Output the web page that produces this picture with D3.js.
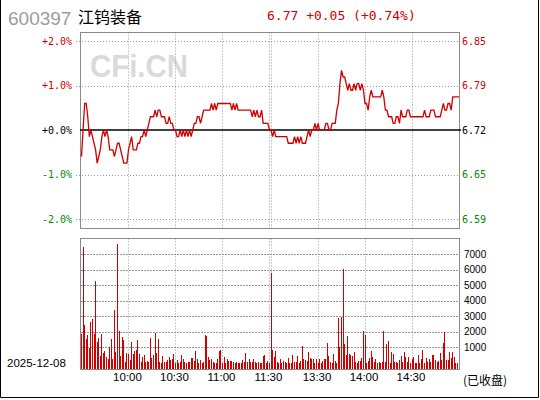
<!DOCTYPE html>
<html>
<head>
<meta charset="utf-8">
<script src="https://cdn.jsdelivr.net/npm/d3@7/dist/d3.min.js"></script>
<style>
  body { margin: 0; background: #fff; }
  svg { display: block; font-family: "Liberation Sans", Arial, sans-serif; }
</style>
</head>
<body>
<svg id="chart" width="540" height="400"></svg>
<script>
var stockCode = '600397'
var stockName = '江钨装备'
var quote = '6.77 +0.05 (+0.74%)'
var tradeDate = '2025-12-08'
var closedNote = '(已收盘)'
var prevClose = 6.72

var pctTicks = [2, 1, 0, -1, -2]
var pctLabels = ['+2.0%', '+1.0%', '+0.0%', '-1.0%', '-2.0%']
var priceLabels = ['6.85', '6.79', '6.72', '6.65', '6.59']
var volTicks = [1000, 2000, 3000, 4000, 5000, 6000, 7000]

// minute index: 0 = 9:30, 120 = 11:30, 121 = 13:00, 241 = 15:00
var gridIndex = [30, 60, 90, 120, 121, 151, 181, 211]
var timeIndex = [30, 60, 90, 120, 151, 181, 211]
var timeLabels = ['10:00', '10:30', '11:00', '11:30', '13:30', '14:00', '14:30']

var prices = [
  6.68, 6.72, 6.76, 6.76, 6.74, 6.71, 6.72, 6.71, 6.70, 6.69,
  6.67, 6.68, 6.69, 6.71, 6.72, 6.71, 6.72, 6.71, 6.69, 6.69,
  6.69, 6.68, 6.69, 6.70, 6.70, 6.69, 6.68, 6.67, 6.67, 6.67,
  6.69, 6.70, 6.71, 6.69, 6.69, 6.69, 6.70, 6.70, 6.71, 6.71,
  6.72, 6.71, 6.72, 6.73, 6.74, 6.74, 6.74, 6.75, 6.74, 6.75,
  6.75, 6.74, 6.74, 6.74, 6.73, 6.73, 6.74, 6.73, 6.73, 6.72,
  6.72, 6.71, 6.71, 6.72, 6.71, 6.72, 6.71, 6.72, 6.71, 6.72,
  6.71, 6.72, 6.73, 6.73, 6.74, 6.74, 6.73, 6.74, 6.75, 6.75,
  6.75, 6.75, 6.75, 6.76, 6.75, 6.76, 6.75, 6.76, 6.76, 6.76,
  6.76, 6.76, 6.76, 6.76, 6.76, 6.76, 6.75, 6.76, 6.75, 6.76,
  6.75, 6.75, 6.75, 6.75, 6.75, 6.75, 6.75, 6.75, 6.75, 6.74,
  6.75, 6.74, 6.75, 6.74, 6.74, 6.75, 6.73, 6.73, 6.73, 6.73,
  6.72, 6.72, 6.71, 6.72, 6.71, 6.71, 6.71, 6.71, 6.71, 6.71,
  6.71, 6.71, 6.70, 6.70, 6.70, 6.70, 6.71, 6.70, 6.71, 6.70,
  6.71, 6.70, 6.70, 6.70, 6.71, 6.72, 6.71, 6.72, 6.72, 6.73,
  6.72, 6.73, 6.72, 6.72, 6.72, 6.72, 6.73, 6.73, 6.72, 6.72,
  6.73, 6.73, 6.73, 6.75, 6.76, 6.79, 6.81, 6.80, 6.80, 6.79,
  6.78, 6.79, 6.78, 6.78, 6.79, 6.78, 6.79, 6.79, 6.78, 6.79,
  6.78, 6.76, 6.76, 6.75, 6.77, 6.78, 6.77, 6.77, 6.77, 6.77,
  6.77, 6.77, 6.78, 6.77, 6.75, 6.75, 6.74, 6.74, 6.74, 6.73,
  6.73, 6.74, 6.74, 6.73, 6.75, 6.74, 6.74, 6.74, 6.75, 6.75,
  6.74, 6.74, 6.74, 6.74, 6.74, 6.74, 6.74, 6.74, 6.74, 6.75,
  6.74, 6.74, 6.74, 6.75, 6.75, 6.75, 6.74, 6.74, 6.74, 6.74,
  6.75, 6.76, 6.75, 6.75, 6.76, 6.76, 6.75, 6.77, 6.77, 6.77,
  6.77, 6.77
]

var volumes = [
  1865, 7480, 2440, 1540, 1800, 990, 2640, 2830, 1860, 5270,
  1370, 1610, 450, 1860, 620, 770, 390, 260, 1030, 1540,
  260, 3410, 710, 7650, 2060, 450, 1670, 1480, 60, 640,
  580, 190, 1350, 580, 770, 840, 1480, 580, 60, 390,
  510, 60, 130, 60, 1610, 320, 510, 1930, 640, 1540,
  60, 20, 450, 60, 60, 190, 390, 190, 260, 580,
  20, 190, 20, 60, 510, 260, 60, 20, 60, 60,
  320, 320, 130, 770, 260, 20, 190, 20, 60, 1800,
  1740, 390, 190, 260, 60, 20, 20, 260, 770, 840,
  20, 390, 20, 260, 130, 130, 130, 60, 20, 60,
  20, 20, 20, 190, 60, 640, 60, 260, 60, 60,
  260, 60, 20, 60, 20, 20, 450, 510, 20, 130,
  20, 5810, 840, 390, 770, 60, 20, 260, 20, 130,
  60, 20, 320, 20, 20, 510, 60, 60, 450, 20,
  130, 1090, 260, 190, 130, 710, 320, 260, 260, 20,
  260, 20, 260, 20, 130, 260, 260, 1290, 450, 60,
  20, 580, 130, 20, 2920, 1030, 2980, 6050, 1220, 510,
  1740, 580, 510, 450, 710, 60, 20, 130, 130, 320,
  2060, 1800, 20, 130, 320, 770, 390, 60, 260, 20,
  60, 20, 60, 2060, 60, 1220, 1410, 20, 710, 580,
  60, 60, 20, 190, 450, 60, 710, 390, 60, 390,
  20, 260, 390, 20, 20, 510, 20, 260, 840, 20,
  320, 60, 260, 60, 510, 510, 190, 60, 130, 640,
  190, 1290, 1990, 190, 190, 710, 320, 710, 390, 20,
  20, 1860
]

var red = '#d00000', green = '#008c00', grid = '#999'
var mono = '"DejaVu Sans Mono", monospace'
var cjk = '"Noto Sans CJK SC", sans-serif'

var svg = d3.select('#chart')

var x = d3.scaleLinear().domain([0, 241]).range([81.5, 459])
var yPct = d3.scaleLinear().domain([-2, 2]).range([219, 41])
var yPrice = d3.scaleLinear()
    .domain([prevClose * 0.98, prevClose * 1.02])
    .range([219, 41])
var yVol = d3.scaleLinear().domain([0, 7000]).range([363, 254])

var pricePanel = { top: 32.5, bottom: 228.5 }
var volPanel = { top: 238.5, bottom: 369.5 }

function pctColor (p) {
  return p > 0 ? red : (p < 0 ? green : '#000')
}

// outer frame (left, bottom, right)
svg.append('path')
    .attr('d', 'M0.5,0V397.5H538.5V0')
    .attr('fill', 'none')
    .attr('stroke', '#000')

// header
svg.append('text')
    .attr('x', 8).attr('y', 25)
    .attr('font-size', 19)
    .attr('fill', '#9c9c9c')
    .text(stockCode)

svg.append('text')
    .attr('x', 78).attr('y', 23)
    .attr('font-size', 16)
    .style('font-family', cjk)
    .attr('fill', '#000')
    .text(stockName)

svg.append('text')
    .attr('x', 267).attr('y', 20)
    .attr('font-size', 13)
    .style('font-family', mono)
    .attr('fill', red)
    .text(quote)

// watermark
svg.append('text')
    .attr('x', 90).attr('y', 77)
    .attr('font-size', 32)
    .attr('font-weight', 'bold')
    .attr('textLength', 98)
    .attr('lengthAdjust', 'spacingAndGlyphs')
    .attr('fill', '#dadada')
    .text('CFi.CN')

// price panel grid
var pg = svg.append('g').attr('class', 'price-grid')

pg.selectAll('line.h')
    .data(pctTicks.filter(function (d) { return d !== 0 }))
  .enter().append('line')
    .attr('class', 'h')
    .attr('x1', 76).attr('x2', 460)
    .attr('y1', function (d) { return Math.round(yPct(d)) + 0.5 })
    .attr('y2', function (d) { return Math.round(yPct(d)) + 0.5 })
    .attr('stroke', grid)
    .attr('stroke-dasharray', '1,2')

pg.selectAll('line.v')
    .data(gridIndex)
  .enter().append('line')
    .attr('class', 'v')
    .attr('x1', function (d) { return Math.round(x(d)) + 0.5 })
    .attr('x2', function (d) { return Math.round(x(d)) + 0.5 })
    .attr('y1', pricePanel.top).attr('y2', pricePanel.bottom)
    .attr('stroke', grid)
    .attr('stroke-dasharray', '1,2')

pg.append('rect')
    .attr('x', 80.5).attr('y', pricePanel.top)
    .attr('width', 379).attr('height', pricePanel.bottom - pricePanel.top)
    .attr('fill', 'none')
    .attr('stroke', '#8a8a8a')

// axis labels
svg.selectAll('text.pct')
    .data(pctTicks)
  .enter().append('text')
    .attr('class', 'pct')
    .attr('x', 72)
    .attr('y', function (d) { return yPct(d) })
    .attr('dy', '0.36em')
    .attr('text-anchor', 'end')
    .attr('font-size', 10)
    .style('font-family', mono)
    .attr('fill', pctColor)
    .text(function (d, i) { return pctLabels[i] })

svg.selectAll('text.px')
    .data(pctTicks)
  .enter().append('text')
    .attr('class', 'px')
    .attr('x', 462)
    .attr('y', function (d) { return yPct(d) })
    .attr('dy', '0.36em')
    .attr('font-size', 10)
    .style('font-family', mono)
    .attr('fill', pctColor)
    .text(function (d, i) { return priceLabels[i] })

// previous close line
svg.append('line')
    .attr('x1', 80).attr('x2', 461)
    .attr('y1', yPct(0)).attr('y2', yPct(0))
    .attr('stroke', '#000')
    .attr('stroke-width', 1.4)

// price line
var line = d3.line()
    .x(function (d, i) { return x(i) })
    .y(function (d) { return yPrice(d) })

svg.append('path')
    .datum(prices)
    .attr('d', line)
    .attr('fill', 'none')
    .attr('stroke', red)
    .attr('stroke-width', 1.3)

// volume panel
var vg = svg.append('g').attr('class', 'volume')

vg.selectAll('line.h')
    .data(volTicks)
  .enter().append('line')
    .attr('class', 'h')
    .attr('x1', 81).attr('x2', 459)
    .attr('y1', function (d) { return Math.round(yVol(d)) + 0.5 })
    .attr('y2', function (d) { return Math.round(yVol(d)) + 0.5 })
    .attr('stroke', grid)
    .attr('stroke-dasharray', '2,1')

vg.selectAll('line.v')
    .data(gridIndex)
  .enter().append('line')
    .attr('class', 'v')
    .attr('x1', function (d) { return Math.round(x(d)) + 0.5 })
    .attr('x2', function (d) { return Math.round(x(d)) + 0.5 })
    .attr('y1', volPanel.top).attr('y2', volPanel.bottom)
    .attr('stroke', grid)
    .attr('stroke-dasharray', '1,2')

vg.selectAll('rect.bar')
    .data(volumes)
  .enter().append('rect')
    .attr('class', 'bar')
    .attr('x', function (d, i) { return Math.floor(x(i)) })
    .attr('y', function (d) { return yVol(d) })
    .attr('width', 1)
    .attr('height', function (d) { return 369 - yVol(d) })
    .attr('fill', red)
    .attr('shape-rendering', 'crispEdges')

vg.append('rect')
    .attr('x', 80.5).attr('y', volPanel.top)
    .attr('width', 379).attr('height', volPanel.bottom - volPanel.top)
    .attr('fill', 'none')
    .attr('stroke', '#8a8a8a')

vg.selectAll('text.vol')
    .data(volTicks)
  .enter().append('text')
    .attr('class', 'vol')
    .attr('x', 464)
    .attr('y', function (d) { return yVol(d) })
    .attr('dy', '0.36em')
    .attr('font-size', 10)
    .attr('fill', '#000')
    .text(function (d) { return d })

// time axis
svg.selectAll('text.time')
    .data(timeIndex)
  .enter().append('text')
    .attr('class', 'time')
    .attr('x', function (d) { return x(d) - 1 })
    .attr('y', 381)
    .attr('text-anchor', 'middle')
    .attr('font-size', 11.5)
    .attr('fill', '#000')
    .text(function (d, i) { return timeLabels[i] })

svg.append('text')
    .attr('x', 7).attr('y', 367)
    .attr('font-size', 11.5)
    .attr('fill', '#000')
    .text(tradeDate)

svg.append('text')
    .attr('x', 463).attr('y', 385)
    .attr('font-size', 12)
    .style('font-family', cjk)
    .attr('fill', '#000')
    .text(closedNote)
</script>
</body>
</html>
